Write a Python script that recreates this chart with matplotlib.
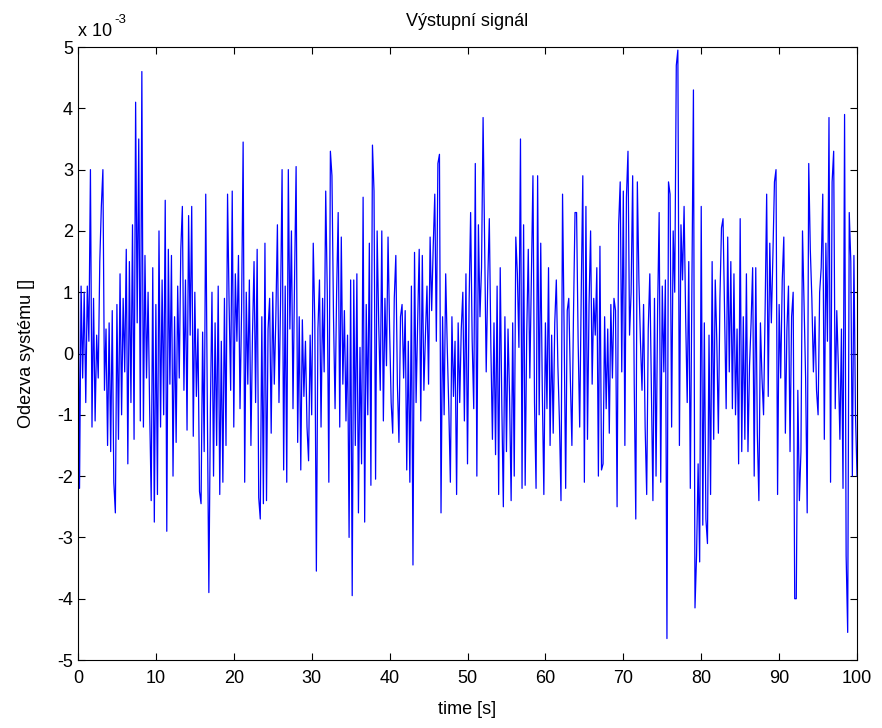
import numpy as np
import matplotlib
matplotlib.use('Agg')
import matplotlib.pyplot as plt

# =============================================================================
# Data (values in units of 1e-3, sampled every 0.2 s, read off the picture)
# =============================================================================
dt = 0.2
t_end = 100

y_00_10 = [2.5, -2.2, 1.1, -0.4, 1.0, -0.8, 1.1, 0.2, 3.0, -1.2,
           0.9, -1.1, 0.3, -0.4, 1.5, 2.4, 3.0, -0.6, 0.4, -1.5,
           0.5, -1.6, 0.7, -2.1, -2.6, 0.8, -1.4, 1.3, -1.0, 0.9,
           -0.3, 1.7, -1.8, 1.5, -0.8, 2.1, -1.4, 4.1, 0.5, 3.5,
           -1.1, 4.6, -1.2, 1.6, -0.4, 1.0, -0.9, -2.4, 1.4, -2.75]
y_10_20 = [0.8, -2.3, 2.0, -1.2, 1.2, -1.0, 2.5, -2.9, 1.7, -0.5,
           1.6, -2.0, 0.6, -1.45, 1.1, -0.4, 1.7, 2.4, -0.6, 1.2,
           -1.25, 2.25, 0.3, 2.4, -1.35, 1.0, -0.7, 0.4, -2.25, -2.45,
           0.35, -1.6, 2.6, -0.8, -3.9, -0.9, 1.0, -2.0, 0.5, -1.5,
           1.1, -2.3, 0.2, -2.1, 0.9, -1.5, 2.6, 0.8, -0.6, 2.65]
y_20_30 = [-1.2, 1.3, 0.2, 1.6, -0.9, 0.7, 3.45, -2.1, 1.0, -0.5,
           1.2, -1.5, 0.3, 1.5, -0.8, 1.7, -2.35, -2.7, 0.6, -2.45,
           1.8, -2.4, 0.4, 0.9, -1.3, 1.0, -0.5, 0.6, 2.1, -0.8,
           0.8, 3.0, -1.9, 1.1, -2.1, 3.0, 0.4, 2.0, -0.9, 1.2,
           3.05, -1.45, 0.6, -1.9, 0.55, -0.7, 0.2, -1.2, -1.75, 0.3]
y_30_40 = [-1.0, 1.8, 0.5, -3.55, 0.4, 1.2, -1.2, 0.9, -0.3, 2.65,
           1.0, -2.1, 3.3, 2.9, 0.6, -0.9, 1.0, 2.3, -1.2, 1.9,
           -0.5, 0.7, -1.1, 0.3, -3.0, 1.2, -3.95, 1.2, -1.5, 1.3,
           -2.6, 0.1, -1.8, 2.55, -2.75, 0.8, -1.0, 1.8, -2.15, 3.4,
           2.65, -2.05, 2.0, 0.5, -0.6, 2.0, -1.1, 0.9, -0.2, 1.9]
y_40_50 = [0.4, -0.8, -1.3, 0.9, 1.6, -0.5, -1.45, 0.6, 0.8, -0.4,
           0.7, -1.9, 0.2, -2.1, 1.1, -3.45, 1.65, -0.8, 0.5, 1.7,
           -1.1, 1.6, -0.6, 0.3, 1.1, -0.5, 1.9, 0.7, 1.75, 2.6,
           0.2, 3.1, 3.25, -2.6, 0.6, -1.0, 1.3, 0.1, -0.9, -2.1,
           0.6, -0.7, 0.2, -2.3, 0.5, -0.8, 0.4, 1.0, -1.1, 1.3]
y_50_60 = [-1.8, 0.8, 2.3, 0.2, -0.9, 3.1, -2.0, 2.1, 0.6, 1.4,
           3.85, 1.7, -0.3, 1.2, 2.2, 0.1, -1.4, 0.5, -1.65, 1.1,
           -2.3, 1.4, -0.8, -2.5, 0.6, -1.6, 0.4, -0.7, -2.4, 0.5,
           -2.0, 1.9, 1.3, 0.1, 3.5, -2.2, 2.1, -2.15, 0.3, 1.7,
           -0.4, 1.2, 2.9, -0.8, -2.2, 2.9, -1.0, 1.8, -0.6, -2.3]
y_60_70 = [0.5, -0.9, 1.4, -1.5, 0.3, -1.3, 0.5, 1.2, -0.2, -1.1,
           -2.4, 2.6, 0.4, -2.2, 0.7, 0.9, -0.4, -1.5, 0.6, 2.3,
           2.3, 0.2, -1.2, 1.0, 2.9, -2.1, 2.4, -1.4, 0.8, 2.0,
           -0.5, 0.9, 0.3, 1.4, -2.0, 1.75, -1.9, -1.8, 0.6, -0.9,
           0.4, -1.3, 0.8, -0.4, 0.9, 0.7, -2.5, 2.1, 2.8, -0.3]
y_70_80 = [2.65, -1.5, 2.55, 3.3, 0.3, 1.0, 2.9, -0.5, -2.7, 2.8,
           1.2, 0.2, -0.6, 0.8, -1.2, -2.3, 0.4, 1.3, -0.5, -2.4,
           0.9, -2.0, 0.7, 2.3, -2.1, 1.1, -0.3, 1.2, -4.65, 2.8,
           2.6, -1.2, 2.0, 1.0, 4.7, 4.95, -1.5, 2.1, 1.2, 2.4,
           0.6, -0.8, 1.5, -2.2, 1.0, 4.3, -4.15, -3.3, -1.8, -3.4]
y_80_90 = [2.4, -2.8, 0.5, -2.7, -3.1, 0.3, -2.3, 1.5, -1.4, 1.2,
           0.2, -1.3, 0.9, 2.05, 2.2, 0.6, -0.9, 1.9, -0.3, 1.5,
           -0.9, 1.3, -1.0, 0.4, -1.8, 2.2, -1.6, 0.6, -1.4, 1.3,
           -1.6, -0.2, 0.5, 1.4, -2.0, 1.4, -1.3, -2.4, 0.5, -0.4,
           -1.0, 0.7, 2.6, -0.7, 1.8, 0.5, 1.6, 2.8, 3.0, -2.3]
y_90_100 = [0.8, -0.4, 1.2, 1.9, -1.3, 0.4, 1.1, -1.6, 0.6, 1.0,
            -4.0, -4.0, -0.6, -2.4, -1.6, 2.0, 0.8, -0.4, -2.6, 3.1,
            1.7, 0.9, -0.3, 0.6, -0.6, -1.0, 1.0, 1.4, 2.6, -1.4,
            1.8, 0.2, 3.85, -2.1, 2.8, 3.3, -0.9, 0.7, -0.2, -1.4,
            0.4, -2.2, 3.9, -3.3, -4.55, 2.3, 1.5, -2.0, 1.6, -1.0,
            -2.0]

y_vals = (y_00_10 + y_10_20 + y_20_30 + y_30_40 + y_40_50 +
          y_50_60 + y_60_70 + y_70_80 + y_80_90 + y_90_100)

title_text = 'Výstupní signál'
xlabel_text = 'time [s]'
ylabel_text = 'Odezva systému []'

# =============================================================================
# Plot
# =============================================================================
plt.rcParams['font.family'] = ['Liberation Sans', 'DejaVu Sans']
plt.rcParams['axes.unicode_minus'] = False

t = np.arange(len(y_vals)) * dt

fig = plt.figure(figsize=(8.82, 7.28), dpi=100)
ax = fig.add_axes([0.0884, 0.0934, 0.8833, 0.842])

ax.plot(t, y_vals, color=(0, 0, 1), lw=0.9)

ax.set_xlim(0, t_end)
ax.set_ylim(-5, 5)
ax.set_xticks(np.arange(0, 101, 10))
ax.set_yticks(np.arange(-5, 6, 1))
ax.tick_params(direction='in', top=True, right=True, length=5, width=0.8,
               labelsize=13, colors='black')
ax.tick_params(axis='x', pad=7)
for s in ax.spines.values():
    s.set_linewidth(0.8)

ax.set_title(title_text, fontsize=13, pad=15)
ax.set_xlabel(xlabel_text, fontsize=13, labelpad=10)
ax.set_ylabel(ylabel_text, fontsize=13, labelpad=16)

# MATLAB-style exponent label above the y axis ("x 10" with raised "-3")
ax.text(0.0, 1.012, 'x 10', transform=ax.transAxes,
        fontsize=13, ha='left', va='bottom')
ax.text(0.0465, 1.034, '-3', transform=ax.transAxes,
        fontsize=9.5, ha='left', va='bottom')

fig.savefig('out.png', dpi=100, facecolor='white')
